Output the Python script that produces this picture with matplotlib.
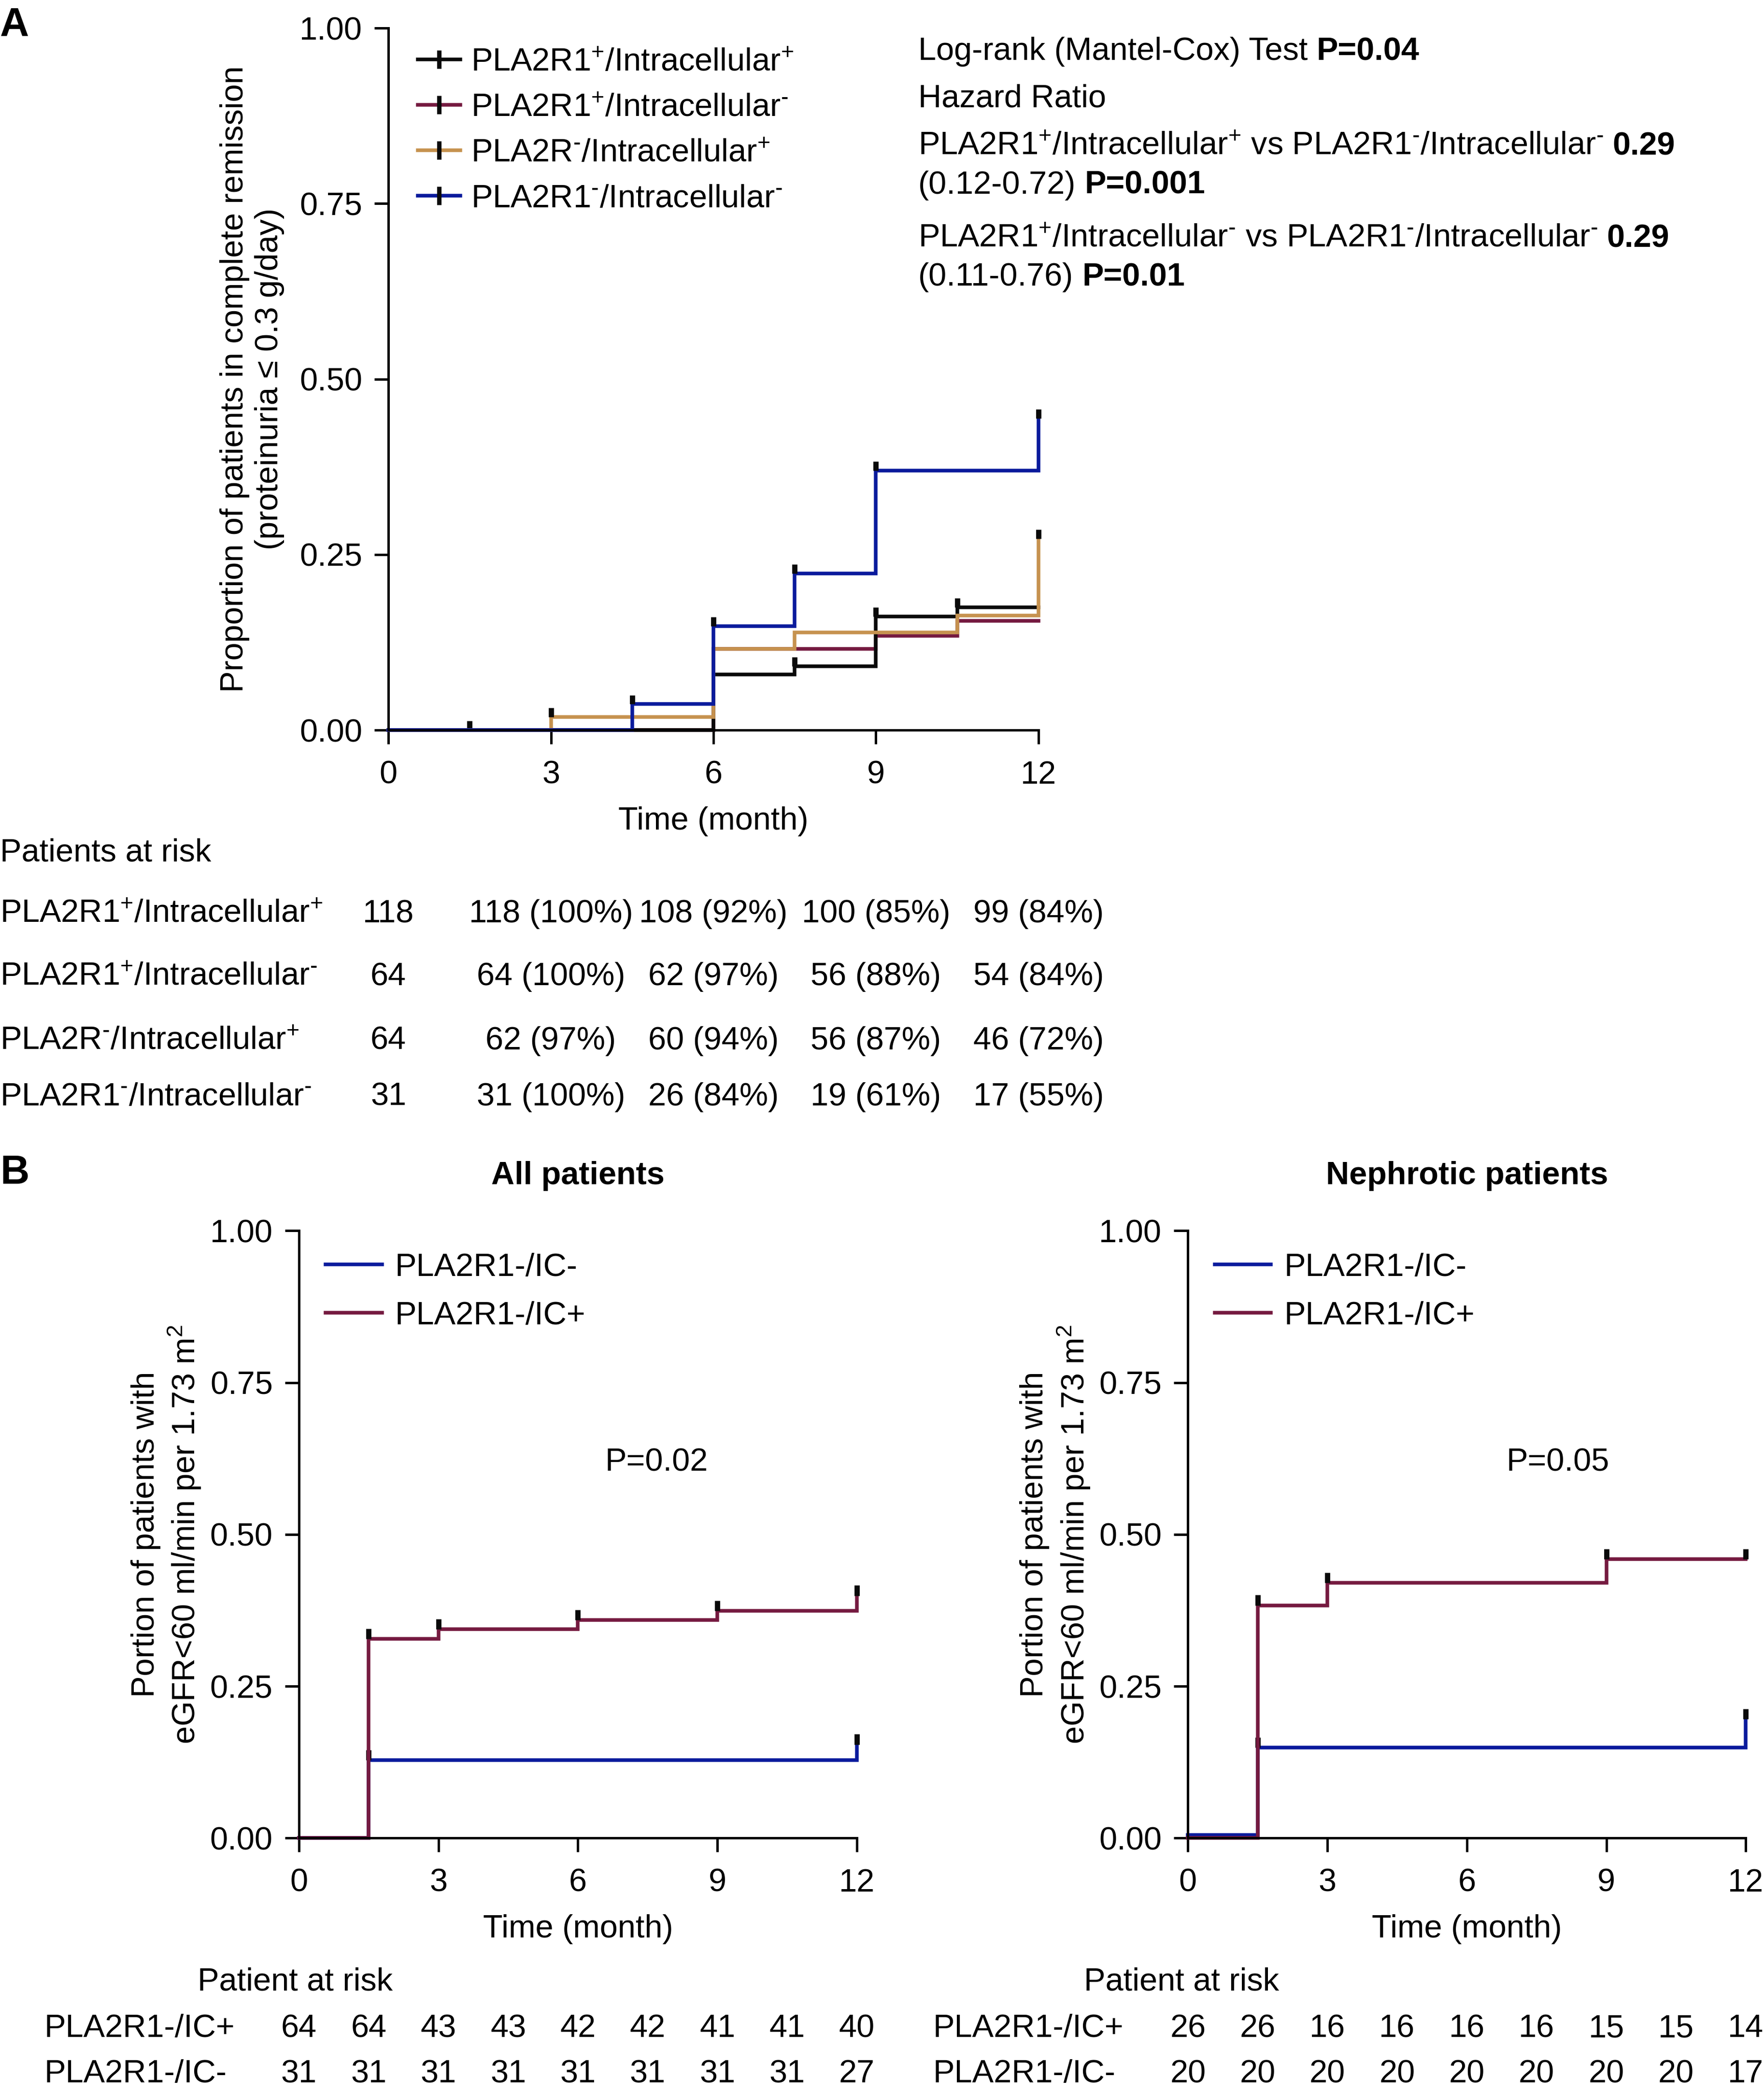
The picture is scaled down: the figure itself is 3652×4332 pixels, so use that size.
import matplotlib
matplotlib.use('agg')
from matplotlib import pyplot as plt  # pylint: disable=C0413
from matplotlib.lines import Line2D  # pylint: disable=C0413
from matplotlib.transforms import blended_transform_factory  # pylint: disable=C0413

plt.rcParams['font.family'] = ['Liberation Sans', 'DejaVu Sans']
plt.rcParams['mathtext.fontset'] = 'custom'
plt.rcParams['mathtext.rm'] = 'Liberation Sans'
plt.rcParams['mathtext.it'] = 'Liberation Sans:italic'
plt.rcParams['mathtext.bf'] = 'Liberation Sans:bold'
plt.rcParams['font.size'] = 16

BLACK = '#0a0a0a'
RED = '#751a40'
TAN = '#c6924f'
BLUE = '#0a1a9c'

P = r'$^{+}$'
M = r'$^{\text{-}}$'

# ---- panel A: complete remission ----
A_LABELS = ['PLA2R1' + P + '/Intracellular' + P,
            'PLA2R1' + P + '/Intracellular' + M,
            'PLA2R' + M + '/Intracellular' + P,
            'PLA2R1' + M + '/Intracellular' + M]
A_COLORS = [BLACK, RED, TAN, BLUE]
A_TIMES = [[0, 6, 7.5, 9, 10.5, 12],
           [0, 6, 9, 10.5, 12],
           [0, 3, 6, 7.5, 10.5, 12],
           [0, 4.5, 6, 7.5, 9, 12]]
A_VALUES = [[0, 0.079, 0.091, 0.162, 0.175, 0.175],
            [0, 0.116, 0.134, 0.156, 0.156],
            [0, 0.019, 0.116, 0.139, 0.163, 0.273],
            [0, 0.037, 0.148, 0.223, 0.370, 0.444]]
A_CENSOR = [[1.5, 7.5, 9, 10.5], [], [3, 12], [4.5, 6, 7.5, 9, 12]]
A_DRAW_ORDER = [1, 0, 2, 3]

A_RISK_TIMES = [0, 3, 6, 9, 12]
A_RISK = [['118', '118 (100%)', '108 (92%)', '100 (85%)', '99 (84%)'],
          ['64', '64 (100%)', '62 (97%)', '56 (88%)', '54 (84%)'],
          ['64', '62 (97%)', '60 (94%)', '56 (87%)', '46 (72%)'],
          ['31', '31 (100%)', '26 (84%)', '19 (61%)', '17 (55%)']]

# ---- panel B: eGFR < 60 ----
B_LABELS = ['PLA2R1-/IC-', 'PLA2R1-/IC+']
B_COLORS = [BLUE, RED]

ALL_NEG_T = [0, 1.5, 12]
ALL_NEG_V = [0, 0.128, 0.154]
ALL_NEG_C = [1.5, 12]
ALL_POS_T = [0, 1.5, 3, 6, 9, 12]
ALL_POS_V = [0, 0.328, 0.344, 0.359, 0.374, 0.399]
ALL_POS_C = [1.5, 3, 6, 9, 12]

NEPH_NEG_T = [0, 1.5, 12]
NEPH_NEG_V = [0.005, 0.149, 0.196]
NEPH_NEG_C = [1.5, 12]
NEPH_POS_T = [0, 1.5, 3, 9, 12]
NEPH_POS_V = [0, 0.383, 0.420, 0.459, 0.459]
NEPH_POS_C = [1.5, 3, 9, 12]

B_RISK_TIMES = [0, 1.5, 3, 4.5, 6, 7.5, 9, 10.5, 12]
ALL_RISK_POS = [64, 64, 43, 43, 42, 42, 41, 41, 40]
ALL_RISK_NEG = [31, 31, 31, 31, 31, 31, 31, 31, 27]
NEPH_RISK_POS = [26, 26, 16, 16, 16, 16, 15, 15, 14]
NEPH_RISK_NEG = [20, 20, 20, 20, 20, 20, 20, 20, 17]

W, H = 1322.0, 1568.0  # layout measured on the small copy


def fy(y):
    return 1 - y / H


def step_value(times, values, t):
    val = values[0]
    for ti, vi in zip(times, values):
        if ti <= t:
            val = vi
    return val


def style_axes(ax):
    ax.set_xlim(0, 12)
    ax.set_ylim(0, 1)
    ax.set_xticks([0, 3, 6, 9, 12])
    ax.set_yticks([0, 0.25, 0.5, 0.75, 1.0])
    ax.set_yticklabels(['0.00', '0.25', '0.50', '0.75', '1.00'])
    for side in ('top', 'right'):
        ax.spines[side].set_visible(False)
    for side in ('left', 'bottom'):
        ax.spines[side].set_linewidth(1.2)
    ax.tick_params(direction='out', length=7, width=1.2, pad=6, labelsize=16)
    ax.tick_params(axis='x', pad=8)
    ax.set_xlabel('Time (month)', fontsize=16, labelpad=8)


def draw_curve(ax, times, values, censor, color, tick_h):
    ax.step(times, values, where='post', color=color, lw=1.8, clip_on=False,
            solid_joinstyle='miter')
    for t in censor:
        v = step_value(times, values, t)
        ax.vlines(t, v, v + tick_h, color=BLACK, lw=2.6, clip_on=False)


fig = plt.figure(figsize=(3653 / 300, 4332 / 300), dpi=300)

axA = fig.add_axes([291 / W, fy(547), (778 - 291) / W, (547 - 21) / H])
axB1 = fig.add_axes([224 / W, fy(1377), (642 - 224) / W, (1377 - 922) / H])
axB2 = fig.add_axes([890 / W, fy(1377), (1308 - 890) / W, (1377 - 922) / H])

# ---------- panel A ----------
style_axes(axA)
for i in A_DRAW_ORDER:
    draw_curve(axA, A_TIMES[i], A_VALUES[i], A_CENSOR[i], A_COLORS[i], 0.013)
axA.set_ylabel('Proportion of patients in complete remission\n(proteinuria \u2264 0.3 g/day)',
               fontsize=16)
axA.yaxis.set_label_coords(-0.160, 0.5)

handles = [Line2D([], [], color=c, lw=1.8, marker='|', markersize=9,
                  markeredgewidth=2.2, markeredgecolor=BLACK) for c in A_COLORS]
axA.legend(handles, A_LABELS, loc='upper left', bbox_to_anchor=(0.045, 0.972),
           frameon=False, handlelength=1.33, handletextpad=0.33, borderpad=0,
           borderaxespad=0, labelspacing=0.48, fontsize=16)

renderer = fig.canvas.get_renderer()


def rich_line(x, y, parts):
    for txt, weight in parts:
        t = fig.text(x, y, txt, fontsize=16, fontweight=weight, va='baseline', ha='left')
        bb = t.get_window_extent(renderer=renderer)
        x = bb.x1 / fig.bbox.width + 0.005


xa = 688 / W
rich_line(xa, fy(45), [('Log-rank (Mantel-Cox) Test', 'normal'), ('P=0.04', 'bold')])
rich_line(xa, fy(80), [('Hazard Ratio', 'normal')])
rich_line(xa, fy(116), [(A_LABELS[0] + ' vs ' + A_LABELS[3], 'normal'), ('0.29', 'bold')])
rich_line(xa, fy(145), [('(0.12-0.72)', 'normal'), ('P=0.001', 'bold')])
rich_line(xa, fy(185), [(A_LABELS[1] + ' vs ' + A_LABELS[3], 'normal'), ('0.29', 'bold')])
rich_line(xa, fy(214), [('(0.11-0.76)', 'normal'), ('P=0.01', 'bold')])

# risk table A
trA = blended_transform_factory(axA.transData, fig.transFigure)
fig.text(0.0, fy(639), 'Patients at risk', fontsize=16, va='center', ha='left')
for row, (lab, yrow) in enumerate(zip(A_LABELS, [685, 732, 780, 822])):
    fig.text(0.0, fy(yrow), lab, fontsize=16, va='center', ha='left')
    for t, val in zip(A_RISK_TIMES, A_RISK[row]):
        axA.text(t, fy(yrow), val, transform=trA, fontsize=16, va='center', ha='center')

fig.text(0.0, fy(19), 'A', fontsize=20, fontweight='bold', va='center', ha='left')
fig.text(0.0, fy(879), 'B', fontsize=20, fontweight='bold', va='center', ha='left')

# ---------- panel B ----------
panels = [
    (axB1, 'All patients', 'P=0.02', 0.641,
     [(ALL_NEG_T, ALL_NEG_V, ALL_NEG_C), (ALL_POS_T, ALL_POS_V, ALL_POS_C)],
     [ALL_RISK_POS, ALL_RISK_NEG], 148, 33),
    (axB2, 'Nephrotic patients', 'P=0.05', 0.663,
     [(NEPH_NEG_T, NEPH_NEG_V, NEPH_NEG_C), (NEPH_POS_T, NEPH_POS_V, NEPH_POS_C)],
     [NEPH_RISK_POS, NEPH_RISK_NEG], 812, 699),
]
for ax, title, pval, px, curves, risk, x_risk_title, x_rows in panels:
    style_axes(ax)
    for (times, values, cens), color in zip(curves, B_COLORS):
        draw_curve(ax, times, values, cens, color, 0.017)
    ax.set_title(title, fontsize=16, fontweight='bold', pad=23)
    ax.text(px, 0.618, pval, transform=ax.transAxes, fontsize=16, ha='center', va='center')
    ax.set_ylabel('Portion of patients with\neGFR<60 ml/min per 1.73 m$^{2}$', fontsize=16)
    ax.yaxis.set_label_coords(-0.172, 0.5)
    bh = [Line2D([], [], color=c, lw=1.8) for c in B_COLORS]
    ax.legend(bh, B_LABELS, loc='upper left', bbox_to_anchor=(0.048, 0.964),
              frameon=False, handlelength=1.75, handletextpad=0.4, borderpad=0,
              borderaxespad=0, labelspacing=0.57, fontsize=16)
    tr = blended_transform_factory(ax.transData, fig.transFigure)
    fig.text(x_risk_title / W, fy(1485), 'Patient at risk', fontsize=16, va='center', ha='left')
    for lab, counts, yrow in zip(['PLA2R1-/IC+', 'PLA2R1-/IC-'], risk, [1520, 1554]):
        fig.text(x_rows / W, fy(yrow), lab, fontsize=16, va='center', ha='left')
        for t, n in zip(B_RISK_TIMES, counts):
            ax.text(t, fy(yrow), str(n), transform=tr, fontsize=16, va='center', ha='center')

fig.savefig('out.png', dpi=300)
